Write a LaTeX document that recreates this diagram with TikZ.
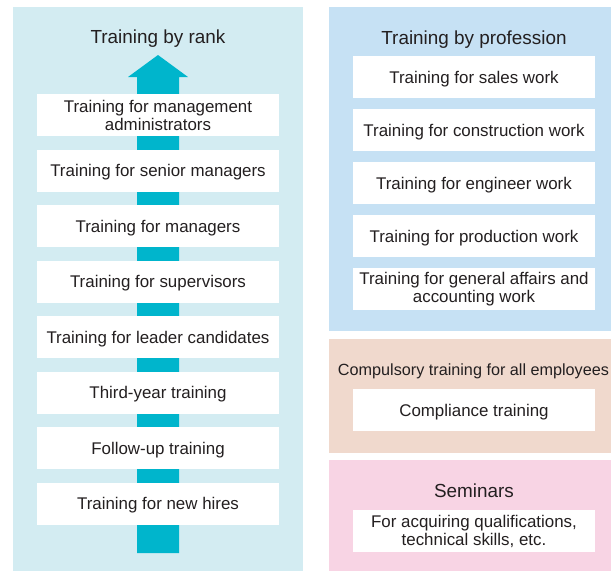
\documentclass[tikz,border=0pt]{standalone}
\usepackage{fontspec}
\setmainfont{Liberation Sans}
\definecolor{leftbg}{HTML}{D3ECF2}
\definecolor{arrowc}{HTML}{00B5CC}
\definecolor{profbg}{HTML}{C6E1F4}
\definecolor{compbg}{HTML}{F0D9CD}
\definecolor{sembg}{HTML}{F8D4E4}
\definecolor{txt}{HTML}{231F20}
\begin{document}
\begin{tikzpicture}[x=1pt,y=-1pt,
  boxbase/.style={fill=white,draw=none,minimum width=242pt,minimum height=42pt,inner sep=0pt,align=center,text=txt,font=\fontsize{16.9}{18}\selectfont},
  box/.style={boxbase,text depth=0pt},
  ttl/.style={text=txt,inner sep=0pt,anchor=base,font=\fontsize{18.9}{20}\selectfont}]
\useasboundingbox (0,0) rectangle (611,571);
% panels
\fill[leftbg] (13,7) rectangle (303,571);
\fill[profbg] (329,7) rectangle (611,331);
\fill[compbg] (329,339) rectangle (611,453);
\fill[sembg] (329,460) rectangle (611,571);
% arrow
\fill[arrowc] (137,553) -- (179,553) -- (179,77) -- (188,77) -- (158,55) -- (128,77) -- (137,77) -- cycle;
% titles
\node[ttl] (trank) at (158,43.5) {Training by rank};
\node[ttl] (tprof) at (474,44.3) {Training by profession};
\node[ttl,font=\fontsize{16.2}{18}\selectfont] (tcomp) at (473.5,375) {Compulsory training for all employees};
\node[ttl] (tsem) at (474,497.3) {Seminars};
% rank boxes
\node[boxbase] (r1) at (158,115) {Training for management\\administrators};
\node[box] (r2) at (158,170.5) {Training for senior managers};
\node[box] (r3) at (158,226) {Training for managers};
\node[box] (r4) at (158,281.5) {Training for supervisors};
\node[box] (r5) at (158,337) {Training for leader candidates};
\node[box] (r6) at (158,392.5) {Third-year training};
\node[box] (r7) at (158,448) {Follow-up training};
\node[box] (r8) at (158,503.5) {Training for new hires};
% profession boxes
\node[box] (p1) at (474,77) {Training for sales work};
\node[box] (p2) at (474,130) {Training for construction work};
\node[box] (p3) at (474,183) {Training for engineer work};
\node[box] (p4) at (474,236) {Training for production work};
\node[boxbase] (p5) at (474,289) {Training for general affairs and\\accounting work};
% compulsory
\node[box] (c1) at (474,410) {Compliance training};
% seminars
\node[boxbase] (s1) at (474,531) {For acquiring qualifications,\\technical skills, etc.};
\end{tikzpicture}
\end{document}
